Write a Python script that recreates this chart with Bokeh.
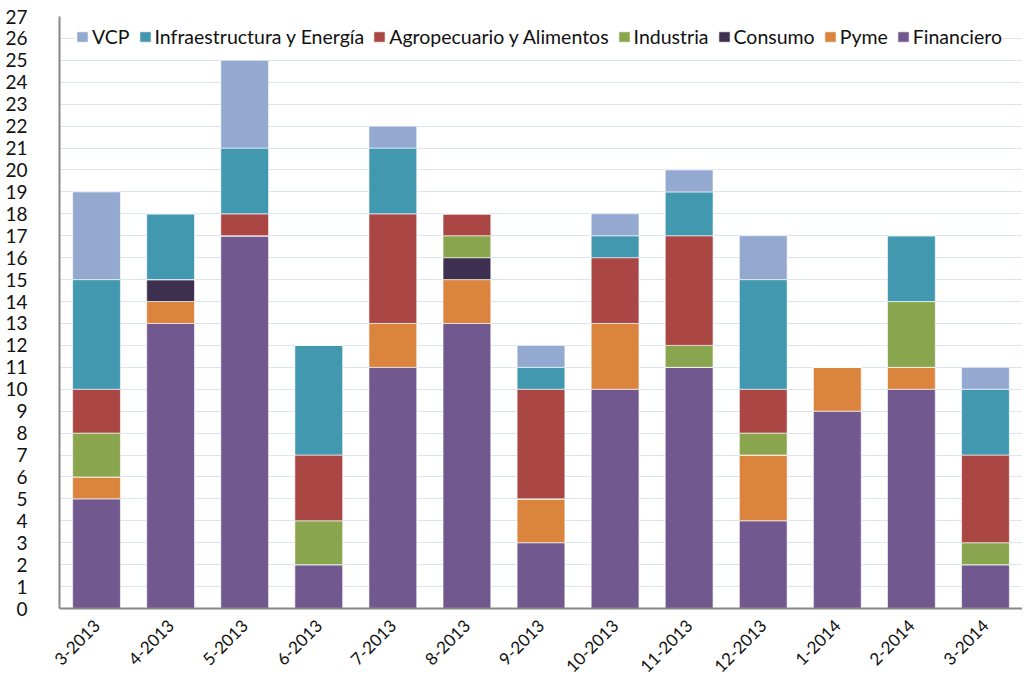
from math import pi
from bokeh.plotting import figure
from bokeh.models import Range1d, FactorRange, FixedTicker, Legend, LegendItem, ColumnDataSource
from bokeh.embed import file_html
from bokeh.resources import INLINE

categories = ["3-2013", "4-2013", "5-2013", "6-2013", "7-2013", "8-2013", "9-2013",
              "10-2013", "11-2013", "12-2013", "1-2014", "2-2014", "3-2014"]
financiero = [5, 13, 17, 2, 11, 13, 3, 10, 11, 4, 9, 10, 2]
pyme       = [1, 1, 0, 0, 2, 2, 2, 3, 0, 3, 2, 1, 0]
consumo    = [0, 1, 0, 0, 0, 1, 0, 0, 0, 0, 0, 0, 0]
industria  = [2, 0, 0, 2, 0, 1, 0, 0, 1, 1, 0, 3, 1]
agro       = [2, 0, 1, 3, 5, 1, 5, 3, 5, 2, 0, 0, 4]
infra      = [5, 3, 3, 5, 3, 0, 1, 1, 2, 5, 0, 3, 3]
vcp        = [4, 0, 4, 0, 1, 0, 1, 1, 1, 2, 0, 0, 1]

series_keys = ["financiero", "pyme", "consumo", "industria", "agro", "infra", "vcp"]
series_names = ["Financiero", "Pyme", "Consumo", "Industria", "Agropecuario y Alimentos",
                "Infraestructura y Energía", "VCP"]
colors = ["#71588F", "#DB843D", "#3D2F4F", "#89A54E", "#AA4643", "#4198AF", "#93A9CF"]

src = ColumnDataSource(dict(cat=categories, financiero=financiero, pyme=pyme, consumo=consumo,
                            industria=industria, agro=agro, infra=infra, vcp=vcp))

FRAME_H = 592
p = figure(width=1022, height=683, x_range=FactorRange(*categories, range_padding=0),
           y_range=Range1d(0, 27), output_backend="svg", toolbar_location=None,
           min_border_left=59, min_border_right=0, min_border_top=16, min_border_bottom=75)
p.outline_line_color = None
p.background_fill_color = "white"

rs = p.vbar_stack(series_keys, x="cat", width=0.645, source=src, color=colors,
                  line_color="white", line_alpha=0.6, line_width=1)

items = [LegendItem(label=n, renderers=[r]) for n, r in zip(series_names, rs)]
legend = Legend(items=items[::-1], orientation="horizontal", location=(16, FRAME_H - 32),
                label_text_font="Lato", label_text_font_size="19.5px", label_text_color="#111111",
                glyph_width=14, glyph_height=13, label_standoff=3, spacing=8,
                padding=9, margin=0, border_line_color=None, background_fill_color="white",
                background_fill_alpha=1.0)
p.add_layout(legend)

p.yaxis.ticker = FixedTicker(ticks=list(range(0, 28)))
p.yaxis.major_tick_line_color = None
p.yaxis.minor_tick_line_color = None
p.yaxis.major_label_standoff = 26
p.yaxis.major_label_text_font = "Lato"
p.yaxis.major_label_text_font_size = "19px"
p.yaxis.major_label_text_color = "#111111"
p.yaxis.axis_line_color = "#888888"
p.yaxis.axis_line_width = 2

p.xaxis.major_tick_line_color = None
p.xaxis.minor_tick_line_color = None
p.xaxis.major_label_orientation = pi / 4
p.xaxis.major_label_text_font = "Lato"
p.xaxis.major_label_text_font_size = "17px"
p.xaxis.major_label_text_color = "#111111"
p.xaxis.major_label_standoff = 8
p.xaxis.axis_line_color = "#888888"
p.xaxis.axis_line_width = 2

p.xgrid.grid_line_color = None
p.ygrid.grid_line_color = "#B8C8E4"
p.ygrid.grid_line_dash = "1 1"
p.ygrid.grid_line_width = 1

open("out.html", "w").write(file_html(p, INLINE))
